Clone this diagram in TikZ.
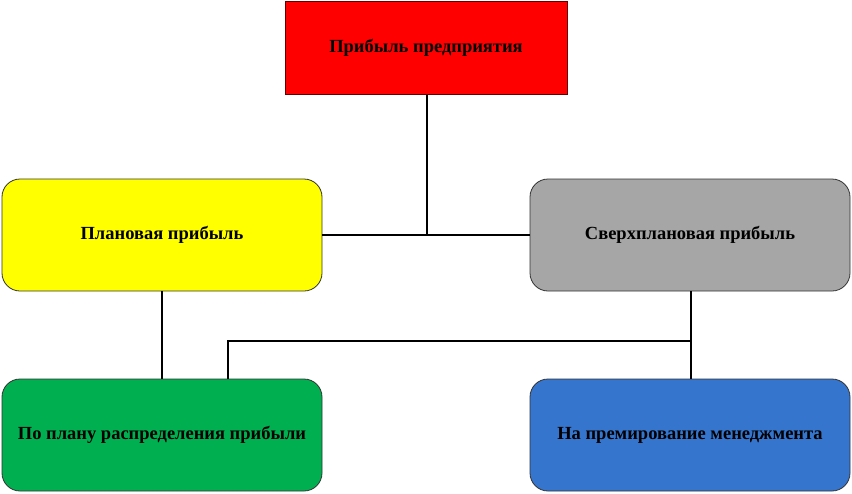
\documentclass[tikz,border=0pt]{standalone}
\usepackage{fontspec}
\setmainfont{Liberation Serif}
\definecolor{boxred}{HTML}{FF0000}
\definecolor{boxyellow}{HTML}{FFFF00}
\definecolor{boxgray}{HTML}{A6A6A6}
\definecolor{boxgreen}{HTML}{00B050}
\definecolor{boxblue}{HTML}{3575CD}
\begin{document}
\begin{tikzpicture}[x=1pt,y=-1pt,
  box/.style={draw=black!80, line width=0.8pt, minimum width=320pt, minimum height=112pt,
    rounded corners=18pt, font=\fontsize{18.5}{21}\selectfont\bfseries, inner sep=0pt},
  conn/.style={line width=2pt, black}]
\useasboundingbox (0,0) rectangle (852,493);
\node[box, rounded corners=0pt, fill=boxred, draw=black!60!red, minimum width=282pt, minimum height=93pt] (top) at (426,48) {Прибыль предприятия};
\node[box, fill=boxyellow] (plan) at (162,235) {Плановая прибыль};
\node[box, fill=boxgray] (over) at (690,235) {Сверхплановая прибыль};
\node[box, fill=boxgreen] (dist) at (162,435) {По плану распределения прибыли};
\node[box, fill=boxblue] (bonus) at (690,435) {На премирование менеджмента};
\coordinate (j1) at (427,235);
\coordinate (j2) at (691,341);
\coordinate (j3) at (228,341);
\draw[conn] (plan.east) -- (over.west);
\draw[conn] (top.south -| j1) -- (j1);
\draw[conn] (plan.south) -- (dist.north);
\draw[conn] (over.south -| j2) -- (bonus.north -| j2);
\draw[conn] (j2) -- (j3) -- (dist.north -| j3);
\end{tikzpicture}
\end{document}
